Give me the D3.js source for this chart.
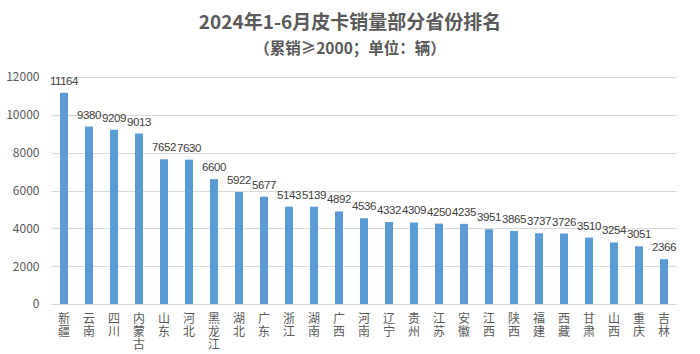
<!DOCTYPE html>
<html><head><meta charset="utf-8">
<script src="https://cdn.jsdelivr.net/npm/d3@7"></script>
<style>html,body{margin:0;padding:0;background:#fff;}svg{display:block;}</style>
</head><body>
<svg id="chart" width="700" height="354"></svg>
<script>
const title = "2024年1-6月皮卡销量部分省份排名";
const subtitle = "（累销≥2000；单位：辆）";
const provinces = ["新疆","云南","四川","内蒙古","山东","河北","黑龙江","湖北","广东","浙江","湖南","广西","河南","辽宁","贵州","江苏","安徽","江西","陕西","福建","西藏","甘肃","山西","重庆","吉林"];
const sales = [11164,9380,9209,9013,7652,7630,6600,5922,5677,5143,5139,4892,4536,4332,4309,4250,4235,3951,3865,3737,3726,3510,3254,3051,2366];
const yTicks = [0,2000,4000,6000,8000,10000,12000];

(function() {
const svg = d3.select("#chart");
const font = "'Noto Sans CJK SC', 'Noto Sans', sans-serif";
const numFont = "'Liberation Sans', Arial, sans-serif";
const pLeft = 51.5, pRight = 676.5, pTop = 77, pBottom = 304;

const x = d3.scaleBand().domain(provinces).range([pLeft, pRight]).paddingInner(0.68).paddingOuter(0.34);
const y = d3.scaleLinear().domain([0, 12000]).range([pBottom, pTop]);

svg.append("text").attr("x", 350).attr("y", 29).attr("text-anchor", "middle")
  .attr("font-family", font).attr("font-weight", "bold").attr("font-size", 19).attr("fill", "#595959").text(title);
svg.append("text").attr("x", 350).attr("y", 54).attr("text-anchor", "middle")
  .attr("font-family", font).attr("font-weight", "bold").attr("font-size", 15.5).attr("fill", "#595959").text(subtitle);

svg.append("g").selectAll("line").data(yTicks).join("line")
  .attr("x1", pLeft).attr("x2", pRight).attr("y1", d => Math.round(y(d)) + 0.5).attr("y2", d => Math.round(y(d)) + 0.5)
  .attr("stroke", "#D9D9D9").attr("stroke-width", 1);

const yAxis = svg.append("g").attr("transform", `translate(${pLeft},0)`)
  .call(d3.axisLeft(y).tickValues(yTicks).tickSize(0).tickPadding(12).tickFormat(d3.format("d")));
yAxis.select(".domain").remove();
yAxis.selectAll("text").attr("font-family", font).attr("font-size", 12).attr("fill", "#595959");

svg.append("g").selectAll("rect").data(sales).join("rect")
  .attr("x", (d, i) => x(provinces[i]))
  .attr("width", x.bandwidth())
  .attr("y", d => y(d))
  .attr("height", d => pBottom - y(d))
  .attr("fill", "#5B9BD5");

svg.append("g").selectAll("text").data(sales).join("text")
  .attr("x", (d, i) => x(provinces[i]) + x.bandwidth() / 2)
  .attr("y", d => y(d) - 8)
  .attr("text-anchor", "middle")
  .attr("font-family", numFont).attr("font-size", 11.5).attr("fill", "#404040")
  .style("letter-spacing", "-0.45px")
  .text(d => d);

const xAxis = svg.append("g").attr("transform", `translate(0,${pBottom})`)
  .call(d3.axisBottom(x).tickSize(0).tickFormat(""));
xAxis.select(".domain").remove();
svg.append("g").selectAll("text").data(provinces).join("text")
  .attr("x", d => x(d) + x.bandwidth() / 2)
  .attr("y", pBottom + 8)
  .attr("text-anchor", "start")
  .style("writing-mode", "vertical-rl")
  .style("text-orientation", "upright")
  .style("letter-spacing", "1px")
  .attr("font-family", font).attr("font-size", 12).attr("fill", "#595959")
  .text(d => d);
})();
</script>
</body></html>
